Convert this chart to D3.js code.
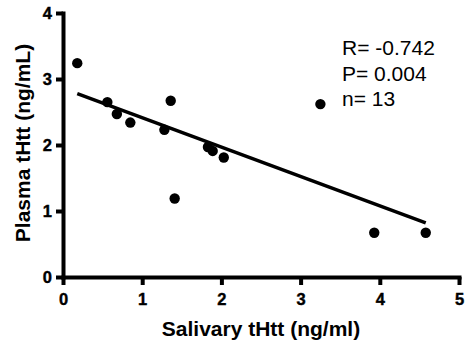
<!DOCTYPE html>
<html>
<head>
<meta charset="utf-8">
<script src="https://cdn.jsdelivr.net/npm/d3@7"></script>
<style>
  body { margin: 0; background: #fff; }
  text { font-family: Arial, "Liberation Sans", Helvetica, sans-serif; }
</style>
</head>
<body>
<svg id="svg"></svg>
<script>
// Scatter: salivary vs plasma tHtt

const width = 467;
const height = 347;

// data
const salivary = [0.18, 0.56, 0.68, 0.85, 1.28, 1.36, 1.41, 1.83, 1.89, 2.03, 3.25, 3.93, 4.58];
const plasma = [3.24, 2.65, 2.47, 2.34, 2.23, 2.67, 1.19, 1.97, 1.91, 1.81, 2.62, 0.67, 0.67];
const fitX = [0.18, 4.58];
const fitY = [2.78, 0.82];
const xTicks = [0, 1, 2, 3, 4, 5];
const yTicks = [0, 1, 2, 3, 4];
const stats = ["R= -0.742", "P= 0.004", "n= 13"];

const points = salivary.map((d, i) => ({ x: d, y: plasma[i] }));

const margin = { top: 13, left: 63, bottom: 70, right: 8 };

const svg = d3.select("#svg").attr("width", width).attr("height", height);

const x = d3.scaleLinear().domain([0, 5]).range([margin.left, 459]);
const y = d3.scaleLinear().domain([0, 4]).range([277, margin.top]);

// axes
const gx = svg
  .append("g")
  .attr("transform", `translate(0,${y(0)})`)
  .call(
    d3.axisBottom(x).tickValues(xTicks).tickFormat(d3.format("d"))
      .tickSize(8).tickSizeOuter(0).tickPadding(8)
  );

const gy = svg
  .append("g")
  .attr("transform", `translate(${x(0)},0)`)
  .call(
    d3.axisLeft(y).tickValues(yTicks).tickFormat(d3.format("d"))
      .tickSize(7).tickSizeOuter(0).tickPadding(4)
  );

[gx, gy].forEach((g) => {
  g.attr("font-size", null).attr("font-family", null);
  g.select(".domain").attr("stroke", "#000").attr("stroke-width", 4).attr("stroke-linecap", "square");
  g.selectAll(".tick line").attr("stroke", "#000").attr("stroke-width", 4);
  g.selectAll(".tick text")
    .attr("fill", "#000")
    .attr("stroke", "#000")
    .attr("stroke-width", 0.4)
    .style("font-size", "16.5px")
    .style("font-weight", "bold");
});

// axis titles
svg
  .append("text")
  .attr("x", (x(0) + x(5)) / 2)
  .attr("y", 336)
  .attr("text-anchor", "middle")
  .style("font-size", "21px")
  .style("font-weight", "bold")
  .text("Salivary tHtt (ng/ml)");

svg
  .append("text")
  .attr("transform", "translate(30,143) rotate(-90)")
  .attr("text-anchor", "middle")
  .style("font-size", "21px")
  .style("font-weight", "bold")
  .text("Plasma tHtt (ng/mL)");

// regression line
svg
  .append("line")
  .attr("x1", x(fitX[0]))
  .attr("y1", y(fitY[0]))
  .attr("x2", x(fitX[1]))
  .attr("y2", y(fitY[1]))
  .attr("stroke", "#000")
  .attr("stroke-width", 3.5);

// points
svg
  .selectAll("circle.pt")
  .data(points)
  .join("circle")
  .attr("class", "pt")
  .attr("cx", (d) => x(d.x))
  .attr("cy", (d) => y(d.y))
  .attr("r", 5.2)
  .attr("fill", "#000");

// stats annotation
svg
  .selectAll("text.stat")
  .data(stats)
  .join("text")
  .attr("class", "stat")
  .attr("x", 342)
  .attr("y", (d, i) => 55 + i * 25.5)
  .style("font-size", "21px")
  .attr("fill", "#000")
  .text((d) => d);
</script>
</body>
</html>
